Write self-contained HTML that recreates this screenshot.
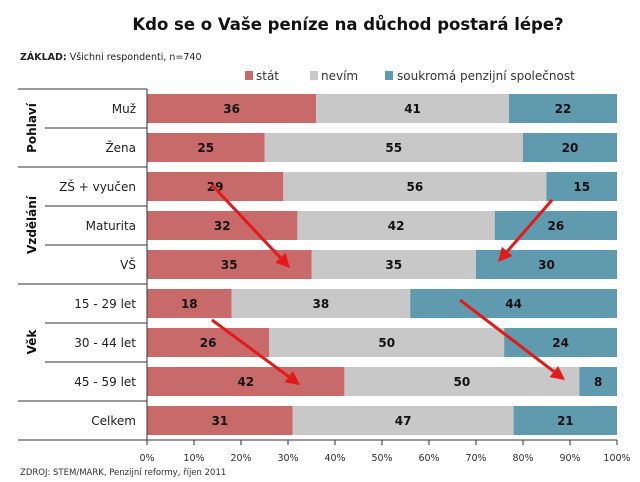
<!DOCTYPE html><html><head><meta charset="utf-8"><style>body{margin:0;background:#fff}svg{display:block;font-family:"DejaVu Sans","Liberation Sans",sans-serif}</style></head><body>
<svg width="640" height="482" viewBox="0 0 640 482">
<text x="348" y="30" text-anchor="middle" font-size="16.5" font-weight="bold" fill="#111">Kdo se o Vaše peníze na důchod postará lépe?</text>
<text x="20" y="60" font-size="9.5" fill="#222"><tspan font-weight="bold">ZÁKLAD:</tspan> Všichni respondenti, n=740</text>
<rect x="245" y="71" width="8" height="9" fill="#c96a6a"/><text x="256" y="80" font-size="12" fill="#333">stát</text>
<rect x="310" y="71" width="8" height="9" fill="#c8c8c8"/><text x="321" y="80" font-size="12" fill="#333">nevím</text>
<rect x="385" y="71" width="8" height="9" fill="#5f9aae"/><text x="397" y="80" font-size="12" fill="#333">soukromá penzijní společnost</text>
<g id="bars"></g>
<g stroke="#333" stroke-width="1">
<line x1="18" y1="89" x2="147" y2="89"/><line x1="45" y1="128" x2="147" y2="128"/>
<line x1="18" y1="167" x2="147" y2="167"/><line x1="45" y1="206" x2="147" y2="206"/><line x1="45" y1="245" x2="147" y2="245"/>
<line x1="18" y1="284" x2="147" y2="284"/><line x1="45" y1="323" x2="147" y2="323"/><line x1="45" y1="362" x2="147" y2="362"/>
<line x1="18" y1="401" x2="147" y2="401"/><line x1="18" y1="440" x2="617" y2="440"/>
<line x1="147" y1="89" x2="147" y2="445"/>
</g>
<g font-size="12" fill="#222" text-anchor="end">
<text x="136" y="113">Muž</text><text x="136" y="152">Žena</text><text x="136" y="191">ZŠ + vyučen</text><text x="136" y="230">Maturita</text><text x="136" y="269">VŠ</text><text x="136" y="308">15 - 29 let</text><text x="136" y="347">30 - 44 let</text><text x="136" y="386">45 - 59 let</text><text x="136" y="425">Celkem</text>
</g>
<g font-size="12" fill="#111" text-anchor="middle" font-weight="bold">
<text transform="translate(36,128) rotate(-90)">Pohlaví</text>
<text transform="translate(36,225) rotate(-90)">Vzdělání</text>
<text transform="translate(36,342) rotate(-90)">Věk</text>
</g>
<g stroke="#333"><line x1="194" y1="440" x2="194" y2="445"/><line x1="241" y1="440" x2="241" y2="445"/><line x1="288" y1="440" x2="288" y2="445"/><line x1="335" y1="440" x2="335" y2="445"/><line x1="382" y1="440" x2="382" y2="445"/><line x1="429" y1="440" x2="429" y2="445"/><line x1="476" y1="440" x2="476" y2="445"/><line x1="523" y1="440" x2="523" y2="445"/><line x1="570" y1="440" x2="570" y2="445"/><line x1="617" y1="440" x2="617" y2="445"/></g>
<g font-size="9.5" fill="#333" text-anchor="middle">
<text x="147" y="461">0%</text><text x="194" y="461">10%</text><text x="241" y="461">20%</text><text x="288" y="461">30%</text><text x="335" y="461">40%</text><text x="382" y="461">50%</text><text x="429" y="461">60%</text><text x="476" y="461">70%</text><text x="523" y="461">80%</text><text x="570" y="461">90%</text><text x="617" y="461">100%</text>
</g>
<text x="20" y="475" font-size="8.5" fill="#333">ZDROJ: STEM/MARK, Penzijní reformy, říjen 2011</text>
<g id="arrows"></g>
</svg>
<script>
var d=[[36,41,22],[25,55,20],[29,56,15],[32,42,26],[35,35,30],[18,38,44],[26,50,24],[42,50,8],[31,47,21]];
var c=["#c96a6a","#c8c8c8","#5f9aae"],g=document.getElementById("bars"),s="";
d.forEach(function(r,i){var y=94+39*i,x=147;r.forEach(function(v,j){var w=(j==2?617-x:v*4.7);s+='<rect x="'+x+'" y="'+y+'" width="'+w+'" height="29" fill="'+c[j]+'"/>';s+='<text x="'+(x+w/2)+'" y="'+(y+19)+'" font-size="12" font-weight="bold" text-anchor="middle" fill="#111">'+v+'</text>';x+=w;});});
g.innerHTML=s;
var a=[[212,185,290,268],[552,200,498,262],[212,320,300,385],[460,300,565,380]],h="";
a.forEach(function(p){var dx=p[2]-p[0],dy=p[3]-p[1],L=Math.sqrt(dx*dx+dy*dy),ux=dx/L,uy=dy/L,bx=p[2]-ux*14,by=p[3]-uy*14;
h+='<line x1="'+p[0]+'" y1="'+p[1]+'" x2="'+bx+'" y2="'+by+'" stroke="#e41a1a" stroke-width="3"/>';
h+='<polygon points="'+p[2]+','+p[3]+' '+(bx-uy*7)+','+(by+ux*7)+' '+(bx+uy*7)+','+(by-ux*7)+'" fill="#e41a1a"/>';});
document.getElementById("arrows").innerHTML=h;
</script>
</body></html>
